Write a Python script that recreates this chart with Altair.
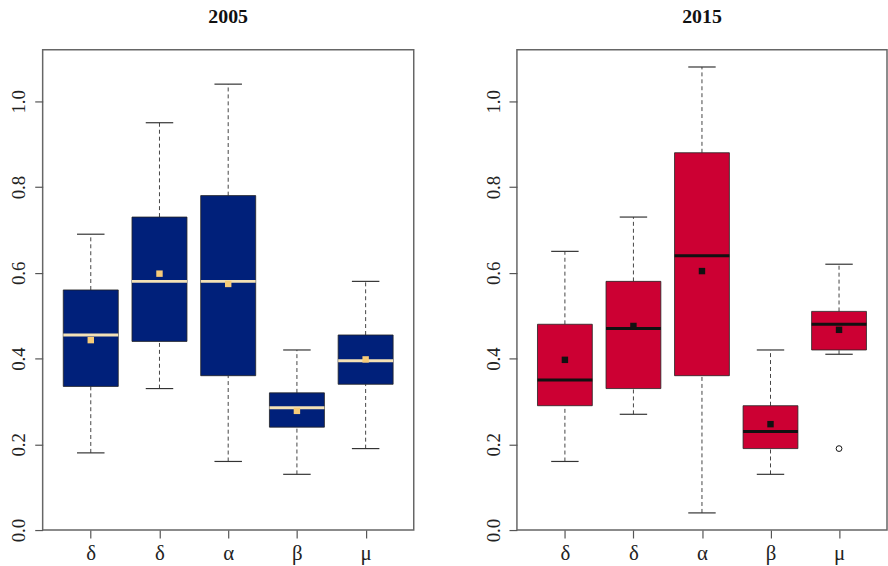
import json

import altair as alt
import pandas as pd

# Group labels along the x axis (same order in both years)
SYMBOLS = ["δ", "δ", "α", "β", "μ"]
POSITIONS = [1, 2, 3, 4, 5]

# 2005 box statistics
LO_2005 = [0.18, 0.33, 0.16, 0.13, 0.19]
Q1_2005 = [0.335, 0.44, 0.36, 0.24, 0.34]
MED_2005 = [0.455, 0.58, 0.58, 0.285, 0.395]
Q3_2005 = [0.56, 0.73, 0.78, 0.32, 0.455]
HI_2005 = [0.69, 0.95, 1.04, 0.42, 0.58]
MEAN_2005 = [0.443, 0.598, 0.574, 0.278, 0.398]

# 2015 box statistics
LO_2015 = [0.16, 0.27, 0.04, 0.13, 0.41]
Q1_2015 = [0.29, 0.33, 0.36, 0.19, 0.42]
MED_2015 = [0.35, 0.47, 0.64, 0.23, 0.48]
Q3_2015 = [0.48, 0.58, 0.88, 0.29, 0.51]
HI_2015 = [0.65, 0.73, 1.08, 0.42, 0.62]
MEAN_2015 = [0.397, 0.476, 0.604, 0.247, 0.467]
OUTLIER_POS_2015 = [5]
OUTLIER_VAL_2015 = [0.19]

FONT = "Liberation Serif"
BOX_HALF = 0.4
CAP_HALF = 0.2


def x_enc(field, channel=alt.X):
    if channel is alt.X2:
        return alt.X2(field)
    return alt.X(
        field,
        type="quantitative",
        title=None,
        scale=alt.Scale(domain=[0.3, 5.7], nice=False, zero=False),
        axis=alt.Axis(
            values=POSITIONS,
            labelExpr=f"{json.dumps(SYMBOLS, ensure_ascii=False)}[round(datum.value) - 1]",
            labelFont=FONT,
            labelFontSize=21,
            labelColor="#222",
            labelPadding=5,
            tickSize=8,
            tickColor="#555",
            tickWidth=1.2,
            domain=False,
            grid=False,
        ),
    )


def y_enc(field, channel=alt.Y):
    if channel is alt.Y2:
        return alt.Y2(field)
    return alt.Y(
        field,
        type="quantitative",
        title=None,
        scale=alt.Scale(domain=[0, 1.12], nice=False, zero=True),
        axis=alt.Axis(
            values=[0.0, 0.2, 0.4, 0.6, 0.8, 1.0],
            format=".1f",
            labelAngle=270,
            labelFont=FONT,
            labelFontSize=19,
            labelColor="#222",
            labelPadding=6,
            tickSize=8,
            tickColor="#555",
            tickWidth=1.2,
            domain=False,
            grid=False,
        ),
    )


def panel(year, lo, q1, med, q3, hi, mean, fill, median_color, mean_color,
          width, out_pos=None, out_val=None):
    df = pd.DataFrame({
        "pos": POSITIONS, "lo": lo, "q1": q1, "med": med,
        "q3": q3, "hi": hi, "mean": mean,
    })
    df["left"] = df["pos"] - BOX_HALF
    df["right"] = df["pos"] + BOX_HALF
    df["capl"] = df["pos"] - CAP_HALF
    df["capr"] = df["pos"] + CAP_HALF

    base = alt.Chart(df)
    whisk_up = base.mark_rule(color="#444", strokeWidth=1, strokeDash=[4, 3]).encode(
        x=x_enc("pos"), y=y_enc("q3"), y2=y_enc("hi", alt.Y2))
    whisk_lo = base.mark_rule(color="#444", strokeWidth=1, strokeDash=[4, 3]).encode(
        x=x_enc("pos"), y=y_enc("lo"), y2=y_enc("q1", alt.Y2))
    cap_hi = base.mark_rule(color="#333", strokeWidth=1.2).encode(
        x=x_enc("capl"), x2=x_enc("capr", alt.X2), y=y_enc("hi"))
    cap_lo = base.mark_rule(color="#333", strokeWidth=1.2).encode(
        x=x_enc("capl"), x2=x_enc("capr", alt.X2), y=y_enc("lo"))
    box = base.mark_rect(fill=fill, stroke="#222", strokeWidth=0.8).encode(
        x=x_enc("left"), x2=x_enc("right", alt.X2),
        y=y_enc("q1"), y2=y_enc("q3", alt.Y2))
    median = base.mark_rule(color=median_color, strokeWidth=3).encode(
        x=x_enc("left"), x2=x_enc("right", alt.X2), y=y_enc("med"))
    means = base.mark_square(size=42, filled=True, color=mean_color, opacity=1).encode(
        x=x_enc("pos"), y=y_enc("mean"))

    layers = [whisk_up, whisk_lo, cap_hi, cap_lo, box, median, means]
    if out_pos:
        odf = pd.DataFrame({"pos": out_pos, "val": out_val})
        layers.append(
            alt.Chart(odf).mark_point(shape="circle", filled=False, size=34,
                                      color="#111", strokeWidth=1, opacity=1)
            .encode(x=x_enc("pos"), y=y_enc("val"))
        )

    return alt.layer(*layers).properties(
        width=width,
        height=484,
        title=alt.TitleParams(
            text=year, font=FONT, fontSize=20, fontWeight="bold",
            color="#111", offset=23, anchor="middle",
        ),
    )


left = panel("2005", LO_2005, Q1_2005, MED_2005, Q3_2005, HI_2005, MEAN_2005,
             fill="#00207A", median_color="#F3E1B6", mean_color="#F6CB78",
             width=374)
right = panel("2015", LO_2015, Q1_2015, MED_2015, Q3_2015, HI_2015, MEAN_2015,
              fill="#CC0033", median_color="#111111", mean_color="#111111",
              width=373, out_pos=OUTLIER_POS_2015, out_val=OUTLIER_VAL_2015)

chart = (
    alt.hconcat(left, right, spacing=69)
    .properties(padding={"left": 9, "top": 4, "right": 0, "bottom": 0},
                background="white")
    .configure_view(stroke="#666", strokeWidth=1.5)
)

chart.save("out.html", embed_options={"renderer": "svg", "actions": False})
